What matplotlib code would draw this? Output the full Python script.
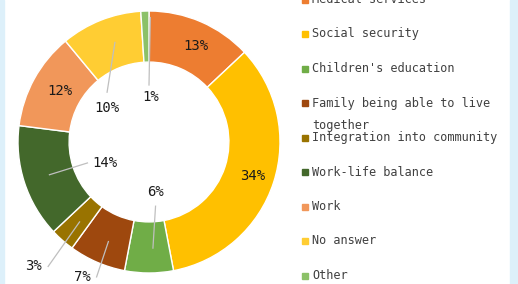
import matplotlib
matplotlib.use("Agg")
import matplotlib.pyplot as plt
from matplotlib.patches import Rectangle

# data, clockwise from 12 o'clock
categories = ["Medical services", "Social security", "Children's education",
              "Family being able to live\ntogether", "Integration into community",
              "Work-life balance", "Work", "No answer", "Other"]
shares = [13, 34, 6, 7, 3, 14, 12, 10, 1]
colors = ["#ED7D31", "#FFC000", "#70AD47", "#9E480E", "#997300",
          "#43682B", "#F1975A", "#FFCD33", "#8CC168"]

# label placement (data units, radius 1 = outer edge) and leader lines
label_xy = [(0.36, 0.73), (0.79, -0.26), (0.05, -0.38), (-0.51, -1.03),
            (-0.88, -0.95), (-0.34, -0.16), (-0.68, 0.39), (-0.32, 0.26),
            (0.01, 0.34)]
leaders = [None, None, ((0.05, -0.49), (0.03, -0.81)),
           ((-0.40, -1.03), (-0.31, -0.76)), ((-0.77, -0.95), (-0.53, -0.61)),
           ((-0.47, -0.16), (-0.76, -0.25)), None,
           ((-0.32, 0.38), (-0.26, 0.76)), ((0.0, 0.435), (0.01, 0.95))]

W, H = 518, 284
fig = plt.figure(figsize=(W / 100, H / 100), dpi=100)
fig.patch.set_facecolor("white")

# light blue page edges
fig.add_artist(Rectangle((0, 0), 4 / W, 1, transform=fig.transFigure,
                         color="#DDF0FA", zorder=0))
fig.add_artist(Rectangle((510 / W, 0), 8 / W, 1, transform=fig.transFigure,
                         color="#DDF0FA", zorder=0))

cx, cy, r = 149, 142, 131
ax = fig.add_axes([(cx - r) / W, (H - cy - r) / H, 2 * r / W, 2 * r / H])
ax.pie(shares, colors=colors, startangle=90, counterclock=False, radius=1,
       wedgeprops=dict(width=0.39, edgecolor="white", linewidth=1))
ax.set_xlim(-1, 1)
ax.set_ylim(-1, 1)
ax.set_aspect("equal")
ax.axis("off")

for v, (x, y), ld in zip(shares, label_xy, leaders):
    if ld is not None:
        (x0, y0), (x1, y1) = ld
        ax.plot([x0, x1], [y0, y1], color="#BFBFBF", lw=0.9, clip_on=False)
    ax.text(x, y, f"{v}%", ha="center", va="center", fontsize=10,
            family="DejaVu Sans Mono", color="#1A1A1A", clip_on=False)

# legend drawn by hand to keep the original row layout
row0, step = -0.5, 34.5
for i, (lab, c) in enumerate(zip(categories, colors)):
    ypx = row0 + i * step
    fig.add_artist(Rectangle((302 / W, 1 - (ypx + 3) / H), 6 / W, 6 / H,
                             transform=fig.transFigure, color=c))
    for j, line in enumerate(lab.split("\n")):
        fig.text(312 / W, 1 - (ypx + j * 22) / H, line, ha="left",
                 va="center", fontsize=8.6, family="DejaVu Sans Mono",
                 color="#404040")

fig.savefig("out.png", dpi=100)
